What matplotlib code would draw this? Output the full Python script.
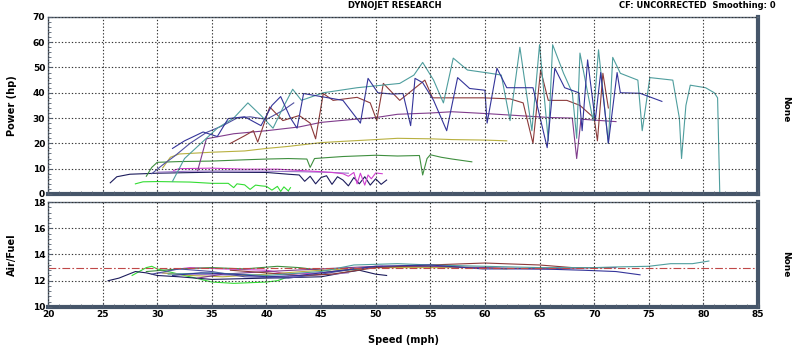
import matplotlib
matplotlib.use("Agg")
import matplotlib.pyplot as plt
from matplotlib.ticker import MultipleLocator

# ---------------- data ----------------
# Power runs: speed (mph) / power (hp)
lime_x = [28, 28.7, 30, 33, 35, 36.5, 37, 37.3, 38, 38.5, 39, 39.5, 40, 40.5, 41, 41.3, 41.6, 42, 42.2]
lime_y = [4.0, 4.8, 4.9, 4.7, 4.2, 4.2, 2.5, 4.0, 3.6, 1.8, 3.5, 3.2, 3.0, 1.5, 3.0, 1.0, 2.8, 1.2, 2.5]

dnavy_x = [25.7, 26.3, 27.5, 30, 35, 40, 42, 43, 43.5, 44, 44.5, 45, 45.5, 46, 46.5, 47, 47.5, 48, 48.5, 49, 49.5, 50, 50.5, 51]
dnavy_y = [4.4, 6.8, 7.8, 8.2, 8.6, 8.5, 7.8, 7.5, 5.0, 7.0, 4.0, 6.5, 7.2, 3.8, 6.8, 5.5, 3.2, 6.5, 4.0, 6.8, 3.5, 6.0, 3.8, 5.5]

mag_x = [31.5, 32, 35, 38, 41, 43, 45, 46, 47, 47.5, 48, 48.3, 48.6, 49, 49.3, 49.6, 50, 50.6]
mag_y = [9.3, 10.0, 10.2, 9.8, 9.8, 9.3, 8.8, 8.5, 8.0, 7.0, 8.5, 4.0, 8.2, 3.5, 7.5, 6.0, 8.3, 8.0]

violet_x = [30, 33, 36, 40, 43, 46, 47.5]
violet_y = [8.6, 9.0, 9.1, 9.0, 8.8, 8.5, 8.2]

dgreen_x = [29, 29.5, 30, 32, 35, 38, 40, 42, 43.7, 44.0, 44.4, 45, 47, 50, 52, 54.0, 54.3, 54.7, 55, 56, 57, 58.8]
dgreen_y = [7.0, 10.5, 12.5, 12.8, 13.0, 13.5, 13.8, 14.0, 13.8, 10.5, 14.0, 14.2, 14.8, 15.3, 15.0, 15.2, 7.5, 14.0, 15.5, 14.5, 13.8, 12.7]

olive_x = [30.5, 31.2, 32, 35, 38, 40, 42, 44, 45, 47, 50, 52, 55, 57, 60, 62]
olive_y = [10.3, 14.5, 15.8, 16.5, 17.0, 18.0, 18.8, 19.8, 20.3, 20.8, 21.5, 22.0, 21.8, 21.5, 21.3, 21.0]

purple_x = [33.7, 34.5, 37, 40, 43, 45, 48, 50, 52, 55, 57, 60, 63, 66, 68.0, 68.4, 68.8, 69, 72]
purple_y = [9.2, 21.8, 23.8, 25.0, 26.5, 28.3, 29.5, 30.2, 31.5, 32.0, 32.5, 31.8, 31.0, 30.2, 30.0, 14.0, 29.8, 29.5, 28.6]

brown_x = [36.7, 38.0, 38.8, 39.2, 40.3, 41.5, 43.0, 44.0, 44.5, 45.2, 46.1, 48.3, 49.5, 50.1, 50.7, 52.2,
           54.5, 55.2, 57, 59.8, 62.3, 63.5, 64.4, 65.1, 65.8, 67.5, 68.7, 70.0, 70.3, 70.8, 71.3]
brown_y = [20, 23, 25, 20.5, 34.4, 29, 31, 28, 21.8, 39.7, 37, 38.2, 36, 29, 43.7, 37,
           45, 38, 38, 38, 37.6, 36, 20, 49, 37, 37, 35, 30, 21, 47.7, 34]

slate_x = [29.5, 30.5, 31.6, 33, 34.5, 36, 37.3, 38.5, 40, 41.5, 42.5]
slate_y = [8.0, 11.5, 15.0, 20.0, 24.3, 27.0, 30.0, 30.5, 29.5, 33.0, 36.0]

blue_x = [31.4, 32.5, 34.2, 35.5, 36.5, 38, 39.5, 40.5, 41.3, 42.2, 42.8, 43.4, 45, 47, 48.6, 49.3, 50.2, 51.5,
          52.5, 53.2, 53.6, 54.3, 55.3, 56.5, 57.5, 58.6, 60.0, 60.2, 61.1, 62.0, 64.4, 65.7, 66.4, 67.3, 68.6,
          68.9, 69.4, 70.1, 70.6, 71.3, 72.1, 72.4, 74.2, 76.2]
blue_y = [18, 21, 24.5, 22.7, 29.8, 30.5, 27, 35, 38.5, 30, 26, 39.7, 38.5, 37, 28, 45.7, 40, 39.5,
          39.7, 27, 45.7, 44, 37, 25, 46, 41.7, 41, 28, 49.7, 42, 42, 18.3, 49.7, 42, 40,
          25, 53, 29, 48, 20, 48, 40, 39.8, 36.6]

teal_x = [31.4, 32.5, 34, 35.5, 37, 38.3, 39.5, 40.6, 41.5, 42.4, 43.2, 45.2, 48.3, 52.2, 53.5, 54.3, 55.3, 56.2,
          57.1, 58.4, 60.5, 61.5, 62.3, 63.2, 64.3, 65.0, 65.8, 66.2, 67.2, 68.0, 68.4, 68.7, 69.9, 70.4, 71.3,
          71.7, 72.4, 74.0, 74.4, 75.1, 77.2, 77.8, 78.0, 78.4, 78.8, 80.2, 81.0, 81.3, 81.5]
teal_y = [5, 14, 20, 26, 30, 36, 31, 26, 34, 41.4, 37, 40, 42, 43.7, 47, 52, 45, 36,
          53.7, 49, 47.7, 47, 29, 58, 25, 59, 21, 59, 47.7, 40, 22, 55.7, 29, 57, 20,
          54, 47.7, 45, 25, 46, 45, 30, 14, 35, 43, 42, 40, 38, 0.5]

# Air/Fuel runs: speed (mph) / AFR
afr_dnavy_x = [25.5, 26.5, 28, 29, 30, 32, 35, 40, 45, 47, 48.5, 50, 51]
afr_dnavy_y = [12.0, 12.2, 12.7, 12.6, 12.4, 12.3, 12.1, 12.2, 12.3, 12.6, 12.8, 12.5, 12.4]
afr_lime_x = [27.7, 29, 29.5, 30, 32, 35, 37, 40, 41, 42]
afr_lime_y = [12.4, 13.0, 13.1, 12.9, 12.5, 11.9, 11.8, 11.9, 12.0, 12.3]
afr_teal_x = [31, 35, 40, 45, 48, 52, 55, 60, 65, 70, 72, 75, 77, 79, 80.5]
afr_teal_y = [12.5, 12.6, 12.4, 12.7, 13.2, 13.3, 13.2, 13.1, 13.0, 13.0, 13.05, 13.1, 13.3, 13.3, 13.5]
afr_blue_x = [31.4, 34, 37, 40, 43, 46, 50, 55, 59.8, 65, 69, 72, 74.2]
afr_blue_y = [12.4, 12.6, 12.5, 12.3, 12.4, 12.7, 13.1, 13.2, 12.9, 12.9, 12.8, 12.7, 12.45]
afr_mag_x = [31, 33, 36, 40, 42, 45, 48, 50.6]
afr_mag_y = [12.8, 13.0, 12.9, 12.8, 12.5, 12.6, 12.9, 13.1]
afr_dgreen_x = [29, 32, 35, 38, 41, 43, 46, 50, 55, 58.8]
afr_dgreen_y = [12.7, 12.9, 13.0, 12.9, 13.1, 13.0, 12.7, 13.0, 13.1, 13.0]
afr_olive_x = [30.5, 33, 36, 40, 45, 50, 55, 60, 62]
afr_olive_y = [12.6, 12.4, 12.3, 12.5, 12.8, 13.0, 13.0, 13.0, 12.9]
afr_purple_x = [33.7, 36, 40, 45, 50, 55, 60, 65, 70, 72]
afr_purple_y = [12.2, 12.5, 12.7, 12.9, 13.1, 13.1, 13.0, 12.9, 13.0, 13.0]
afr_brown_x = [36.7, 40, 43, 46, 50, 55, 60, 65, 68, 71.3]
afr_brown_y = [12.8, 12.6, 12.4, 12.5, 13.0, 13.2, 13.35, 13.2, 13.0, 13.0]
afr_slate_x = [29.5, 32, 35, 38, 42, 45, 48, 50]
afr_slate_y = [12.5, 12.9, 12.7, 12.3, 12.2, 12.5, 12.9, 13.0]
afr_violet_x = [30, 33, 38, 42, 46, 47.5]
afr_violet_y = [12.6, 12.5, 12.4, 12.3, 12.5, 12.6]

afr_target = 13.0

x_ticks = [20, 25, 30, 35, 40, 45, 50, 55, 60, 65, 70, 75, 80, 85]
hp_ticks = [0, 10, 20, 30, 40, 50, 60, 70]
afr_ticks = [10, 12, 14, 16, 18]

# ---------------- styling ----------------
C = {
    "lime": "#33dd33", "dnavy": "#1c1c5c", "mag": "#d040d0", "violet": "#9a78c8",
    "dgreen": "#3f8f3f", "olive": "#b8b040", "purple": "#803c8c", "brown": "#8c3a3a",
    "slate": "#5050a0", "blue": "#34349a", "teal": "#4f9e9e",
}
frame_dark = "#46566a"

fig = plt.figure(figsize=(8, 3.52), dpi=100)
fig.patch.set_facecolor("white")
ax1 = fig.add_axes([0.06, 0.449, 0.8875, 0.503])
ax2 = fig.add_axes([0.06, 0.128, 0.8875, 0.298])

power = [("lime", lime_x, lime_y), ("dnavy", dnavy_x, dnavy_y), ("violet", violet_x, violet_y),
         ("mag", mag_x, mag_y), ("dgreen", dgreen_x, dgreen_y), ("olive", olive_x, olive_y),
         ("purple", purple_x, purple_y), ("slate", slate_x, slate_y), ("brown", brown_x, brown_y),
         ("teal", teal_x, teal_y), ("blue", blue_x, blue_y)]
for k, x, y in power:
    ax1.plot(x, y, color=C[k], lw=0.8)

afr = [("lime", afr_lime_x, afr_lime_y), ("dnavy", afr_dnavy_x, afr_dnavy_y),
       ("violet", afr_violet_x, afr_violet_y), ("mag", afr_mag_x, afr_mag_y),
       ("dgreen", afr_dgreen_x, afr_dgreen_y), ("olive", afr_olive_x, afr_olive_y),
       ("purple", afr_purple_x, afr_purple_y), ("slate", afr_slate_x, afr_slate_y),
       ("brown", afr_brown_x, afr_brown_y), ("teal", afr_teal_x, afr_teal_y),
       ("blue", afr_blue_x, afr_blue_y)]
for k, x, y in afr:
    ax2.plot(x, y, color=C[k], lw=0.8)
ax2.axhline(afr_target, color="#c04848", lw=0.8, dashes=(7, 2, 1.5, 2))

for ax, yt, ylim in [(ax1, hp_ticks, (0, 70)), (ax2, afr_ticks, (10, 18))]:
    ax.set_xlim(20, 85)
    ax.set_ylim(*ylim)
    ax.set_xticks(x_ticks)
    ax.set_yticks(yt)
    ax.xaxis.set_minor_locator(MultipleLocator(1))
    ax.yaxis.set_minor_locator(MultipleLocator((yt[1] - yt[0]) / 5))
    ax.grid(True, which="major", color="#333333", ls=(0, (1.2, 1.8)), lw=0.8)
    ax.tick_params(which="both", direction="in", color="#556070", labelsize=6.5, pad=2)
    ax.tick_params(which="major", length=3)
    ax.tick_params(which="minor", length=2)
    ax.tick_params(axis="y", which="both", left=True, right=False)
    ax.tick_params(axis="x", which="both", bottom=True, top=False)
    for lab in ax.get_yticklabels() + ax.get_xticklabels():
        lab.set_fontweight("bold")
    for s in ["left", "top"]:
        ax.spines[s].set_color("#5a6878")
        ax.spines[s].set_linewidth(1.0)
    for s in ["bottom", "right"]:
        ax.spines[s].set_color(frame_dark)
        ax.spines[s].set_linewidth(3.0)
    ax.set_axisbelow(False)

ax1.tick_params(axis="x", labelbottom=False)
ax1.set_ylabel("Power (hp)", fontsize=7, fontweight="bold")
ax2.set_ylabel("Air/Fuel", fontsize=7, fontweight="bold")
ax2.set_xlabel("Speed (mph)", fontsize=7, fontweight="bold")
ax1.yaxis.set_label_coords(-0.044, 0.5)
ax2.yaxis.set_label_coords(-0.044, 0.5)
ax2.xaxis.set_label_coords(0.5, -0.27)

fig.text(0.494, 0.983, "DYNOJET RESEARCH", ha="center", va="center", fontsize=6, fontweight="bold")
fig.text(0.969, 0.983, "CF: UNCORRECTED  Smoothing: 0", ha="right", va="center", fontsize=6, fontweight="bold")
fig.text(0.982, 0.69, "None", rotation=-90, ha="center", va="center", fontsize=6.5, fontweight="bold")
fig.text(0.982, 0.25, "None", rotation=-90, ha="center", va="center", fontsize=6.5, fontweight="bold")

fig.savefig("out.png", dpi=100, facecolor="white")
